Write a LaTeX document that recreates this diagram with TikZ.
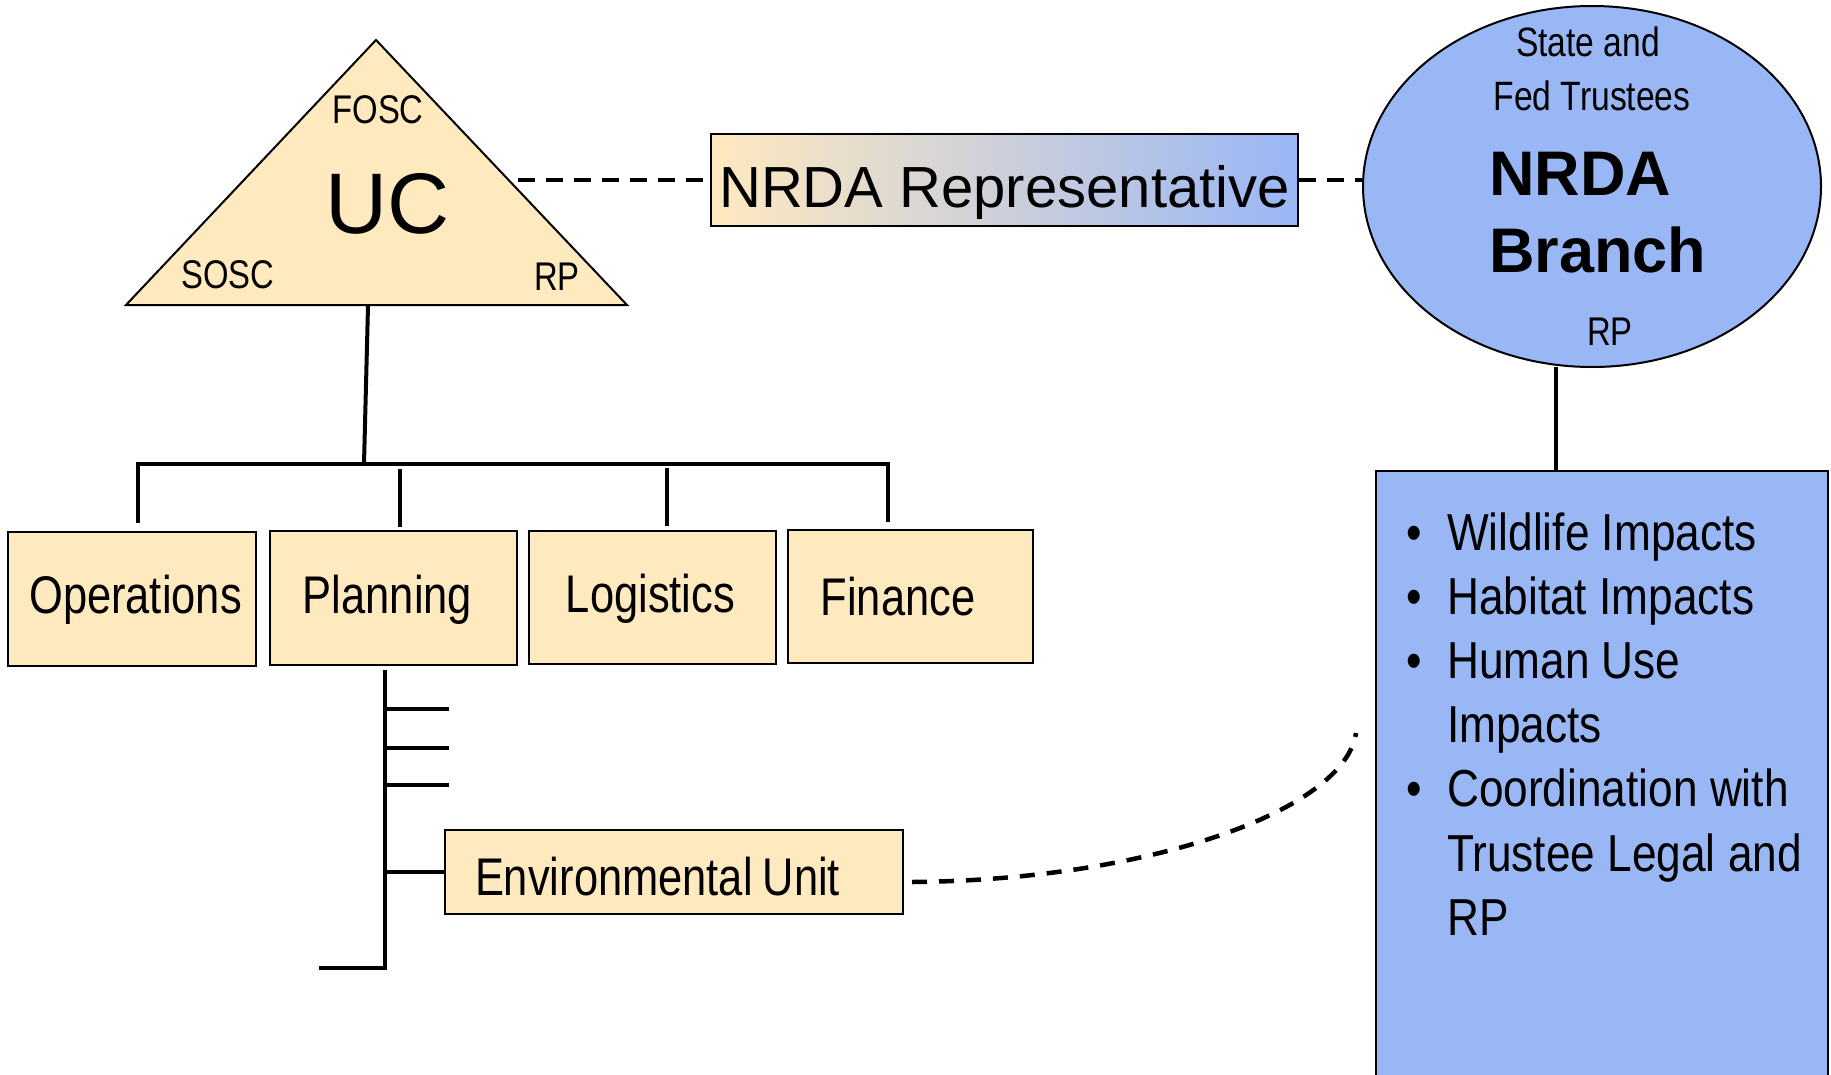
\documentclass[tikz,border=0pt]{standalone}
\usepackage{fontspec}
\setmainfont{Liberation Sans}
\newfontfamily\narrow{Liberation Sans}[FakeStretch=0.82]
\newfontfamily\listfont{Liberation Sans}[FakeStretch=0.85]
\usetikzlibrary{shapes.geometric,calc}
\definecolor{peach}{RGB}{255,233,191}
\definecolor{nblue}{RGB}{153,182,245}
\begin{document}
\begin{tikzpicture}[x=1pt,y=-1pt,
  box/.style={draw=black, fill=peach, line width=2pt, inner sep=0pt,
    font={\narrow\fontsize{53}{60}\selectfont}, text height=38pt, text depth=10pt},
  conn/.style={line width=4pt},
  dashconn/.style={line width=4pt, dash pattern=on 17pt off 11pt},
  curvedash/.style={line width=4.5pt, dash pattern=on 15pt off 12pt},
  lbl/.style={inner sep=0pt, anchor=base},
  small/.style={font={\narrow\fontsize{40}{48}\selectfont}},
]
\useasboundingbox (0,0) rectangle (1831,1074);

% Unified command triangle
\coordinate (tA) at (376,40);
\coordinate (tL) at (126,305);
\coordinate (tR) at (627,305);
\filldraw[fill=peach, draw=black, line width=2pt] (tA)--(tL)--(tR)--cycle;
\node[lbl, small] (fosc) at (378,123) {FOSC};
\node[lbl, font={\fontsize{86}{90}\selectfont}] (uc) at (388,233) {UC};
\node[lbl, small] (sosc) at (228,288) {SOSC};
\node[lbl, small] (rpuc) at (557,290) {RP};

% Sections
\node[box, minimum width=248pt, minimum height=134pt] (ops) at (132,599) {\hspace{7pt}Operations};
\node[box, minimum width=247pt, minimum height=134pt, text height=39pt, text depth=9pt] (plan) at (393.5,598) {Planning\kern12pt\mbox{}};
\node[box, minimum width=247pt, minimum height=133pt, text height=39pt, text depth=10pt] (log) at (652.5,597.5) {Logistics\kern4pt\mbox{}};
\node[box, minimum width=245pt, minimum height=133pt, text height=42pt, text depth=5pt] (fin) at (910.5,596.5) {Finance\kern25pt\mbox{}};

% Environmental unit
\node[box, minimum height=84pt, text width=398pt, inner xsep=30pt, align=left,
  text height=48pt, text depth=2pt] (env) at (674,872) {Environmental\hspace{10pt}Unit};

% NRDA representative
\node[draw=black, line width=2pt, left color=peach, right color=nblue,
  minimum width=587pt, minimum height=92pt, inner sep=0pt,
  font={\fontsize{58}{64}\selectfont}, text height=56pt, text depth=2pt] (rep) at (1004.5,180) {NRDA Representative};

% NRDA branch ellipse
\node[ellipse, draw=black, line width=2pt, fill=nblue, minimum width=458pt,
  minimum height=361pt, inner sep=0pt] (ell) at (1592,186.5) {};
\node[lbl, font={\narrow\fontsize{41}{48}\selectfont}] (st1) at (1588,56) {State and};
\node[lbl, font={\narrow\fontsize{41}{48}\selectfont}] (st2) at (1592,110) {Fed Trustees};
\node[inner sep=0pt, anchor=base west, font={\bfseries\fontsize{63}{70}\selectfont}] (nb1) at (1489,195) {NRDA};
\node[inner sep=0pt, anchor=base west, font={\bfseries\fontsize{63}{70}\selectfont}] (nb2) at (1489,272) {Branch};
\node[lbl, small] (erp) at (1610,345) {RP};

% Impacts box
\node[draw=black, line width=2pt, fill=nblue, anchor=north west, minimum width=452pt,
  minimum height=640pt, inner sep=0pt] (imp) at (1375,470) {};
\node[inner sep=0pt, anchor=base west, font={\listfont\fontsize{52}{64.2}\selectfont}] (list) at (1406,550) {%
\begin{tabular}[t]{@{}p{41pt}@{}l@{}}
\textbullet & Wildlife Impacts\\
\textbullet & Habitat Impacts\\
\textbullet & Human Use\\
 & Impacts\\
\textbullet & Coordination with\\
 & Trustee Legal and\\
 & RP
\end{tabular}};

% Org tree connectors
\coordinate (stemtop) at (368,306);
\coordinate (stembot) at (364,464);
\draw[conn] (stemtop)--(stembot);
\coordinate (barL) at (138,464);
\coordinate (barR) at (888,464);
\coordinate (opsTop) at (138,523);
\coordinate (finTop) at (888,522);
\draw[conn] (opsTop)--(barL)--(barR)--(finTop);
\coordinate (planA) at (400,469);
\coordinate (planB) at (400,527);
\draw[conn] (planA)--(planB);
\coordinate (logA) at (667,468);
\coordinate (logB) at (667,526);
\draw[conn] (logA)--(logB);

% Planning sub-units
\coordinate (pv1) at (385,670);
\coordinate (pv2) at (385,970);
\draw[conn] (pv1)--(pv2);
\foreach \yy in {709,748,785} {\draw[conn] (385,\yy)--(449,\yy);}
\coordinate (envLink) at (385,872);
\draw[conn] (envLink)--(env.west);
\coordinate (btA) at (319,968);
\coordinate (btB) at (385,968);
\draw[conn] (btA)--(btB);

% Dashed links
\coordinate (dashA) at (518,180);
\draw[dashconn] (dashA)--(rep.west);
\draw[dashconn] (rep.east)--(ell.west |- rep.east);
\coordinate (curveStart) at ($(env.east)+(8,10)$);
\coordinate (curveEnd) at (1356,733);
\draw[curvedash] (curveStart) .. controls (1150,880) and (1345,810) .. (curveEnd);

% Ellipse to impacts box
\coordinate (ellLink) at (1556,367);
\draw[conn] (ellLink)--(ellLink |- imp.north);
\end{tikzpicture}
\end{document}
